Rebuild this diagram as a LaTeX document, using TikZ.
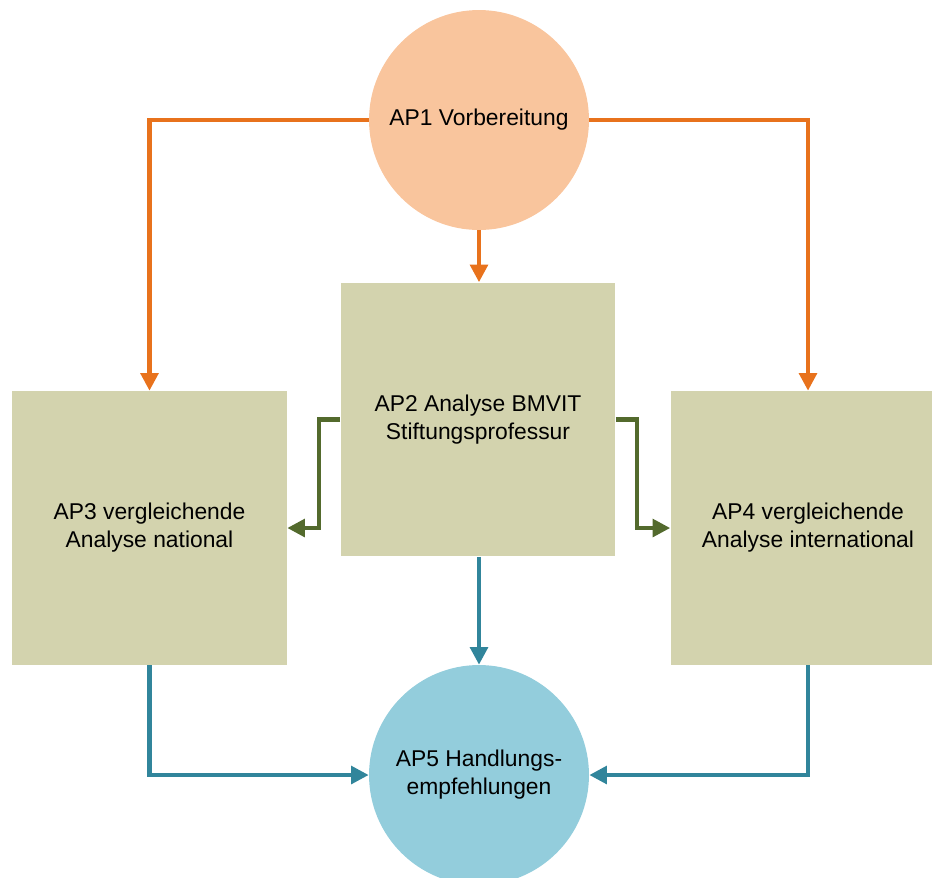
\documentclass[tikz,border=0pt]{standalone}
\usepackage{fontspec}
\setmainfont{Liberation Sans}
\usetikzlibrary{arrows.meta}

\definecolor{orangefill}{HTML}{F9C59D}
\definecolor{orangeline}{HTML}{E8721C}
\definecolor{olivefill}{HTML}{D3D3AE}
\definecolor{greenline}{HTML}{536A2D}
\definecolor{bluefill}{HTML}{93CDDC}
\definecolor{blueline}{HTML}{31859B}

\tikzset{
  apcircle/.style={circle, minimum size=4.4cm, inner sep=0pt, align=center},
  apbox/.style={rectangle, minimum width=5.5cm, minimum height=5.48cm, inner sep=0pt, align=center, fill=olivefill},
  flow/.style={line width=2.3pt, -{Triangle[length=10pt,width=10pt]}}
}

\begin{document}
\begin{tikzpicture}[x=0.02cm, y=-0.02cm, font=\fontsize{13}{16}\selectfont]

\clip (0,0) rectangle (932,877);
\useasboundingbox (0,0) rectangle (932,877);

\node[apcircle, fill=orangefill] (ap1) at (479,120) {AP1 Vorbereitung};
\node[apbox] (ap2) at (478,419.5) {AP2 Analyse BMVIT\\Stiftungsprofessur};
\node[apbox] (ap3) at (149.5,528) {AP3 vergleichende\\Analyse national};
\node[apbox] (ap4) at (808,528) {AP4 vergleichende\\Analyse international};
\node[apcircle, fill=bluefill] (ap5) at (479,775) {AP5 Handlungs-\\empfehlungen};

% AP1
\draw[flow, orangeline] (ap1.west) -| (ap3.north);
\draw[flow, orangeline] (ap1.east) -| (ap4.north);
\draw[flow, orangeline] (ap1.south) -- (ap1.south |- ap2.north);

% AP2
\draw[flow, greenline] (ap2.west) -- ++(-21,0) |- (ap3.east);
\draw[flow, greenline] (ap2.east) -- ++(21,0) |- (ap4.west);
\draw[flow, blueline] (ap5.north |- ap2.south) -- (ap5.north);

% AP3, AP4
\draw[flow, blueline] (ap3.south) |- (ap5.west);
\draw[flow, blueline] (ap4.south) |- (ap5.east);

\end{tikzpicture}
\end{document}
